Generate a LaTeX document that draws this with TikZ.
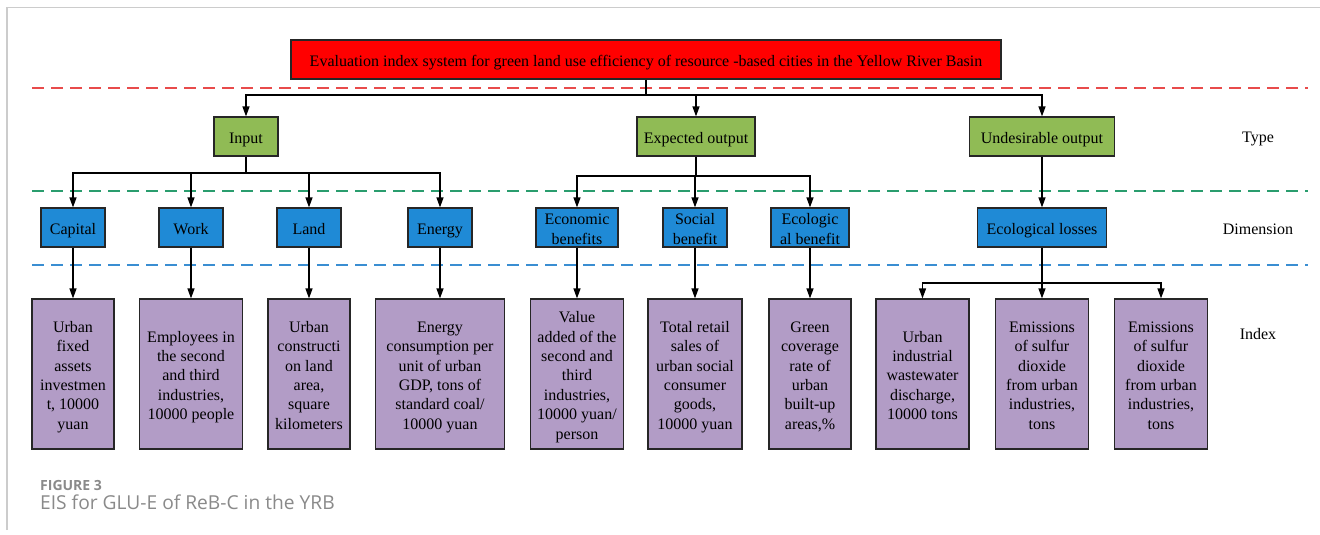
\documentclass[tikz,border=0pt]{standalone}
\usepackage{fontspec}
\setmainfont{Liberation Serif}
\newfontfamily\capfont{Open Sans}
\usetikzlibrary{arrows.meta}
\definecolor{topred}{HTML}{FF0000}
\definecolor{typegreen}{HTML}{90BB55}
\definecolor{dimblue}{HTML}{1F8AD6}
\definecolor{idxpurple}{HTML}{B29CC6}
\definecolor{dred}{HTML}{E84B4B}
\definecolor{dgreen}{HTML}{2A9D6E}
\definecolor{dblue}{HTML}{3A8ED2}
\definecolor{framegray}{HTML}{CCCCCC}
\definecolor{capgray}{HTML}{8A8A8A}
\newcommand{\bxt}[1]{\raisebox{-3pt}[\height][\depth]{\begin{tabular}{@{}c@{}}#1\end{tabular}}}
\begin{document}
\begin{tikzpicture}[x=1pt,y=-1pt,
  box/.style={draw=black!85, line width=1.2pt, inner sep=0pt,
              font=\fontsize{16}{19.4}\selectfont},
  topbox/.style={box, fill=topred, minimum width=710pt, minimum height=39pt},
  typebox/.style={box, fill=typegreen, minimum height=39pt},
  dimbox/.style={box, fill=dimblue, minimum height=39pt},
  idxbox/.style={box, fill=idxpurple, minimum height=150pt},
  arr/.style={-{Triangle[length=10pt,width=7pt]}, line width=1.3pt, draw=black},
  conn/.style={line width=1.3pt, draw=black},
  dline/.style={dashed, dash pattern=on 12pt off 7pt, line width=1.3pt},
  lab/.style={font=\fontsize{16}{19.4}\selectfont}]
\useasboundingbox (0,0) rectangle (1320,535);
\fill[white] (0,0) rectangle (1320,535);
\draw[framegray, line width=1.5pt] (7,530) -- (7,7.5) -- (1320,7.5);

% dashed separators
\draw[dline, dred] (32,88) -- (1308,88);
\draw[dline, dgreen] (32,191) -- (1308,191);
\draw[dline, dblue] (32,265) -- (1308,265);

% top
\node[topbox] (top) at (646,59.5) {\bxt{Evaluation index system for green land use efficiency of resource -based cities in the Yellow River Basin}};

% type
\node[typebox, minimum width=64pt] (input) at (246,136.5) {\bxt{Input}};
\node[typebox, minimum width=118pt] (exp) at (696,136.5) {\bxt{Expected output}};
\node[typebox, minimum width=145pt] (und) at (1042,136.5) {\bxt{Undesirable output}};

% dimension
\node[dimbox, minimum width=64pt] (cap) at (73,227.5) {\bxt{Capital}};
\node[dimbox, minimum width=64pt] (work) at (191,227.5) {\bxt{Work}};
\node[dimbox, minimum width=64pt] (land) at (309,227.5) {\bxt{Land}};
\node[dimbox, minimum width=64pt] (energy) at (440,227.5) {\bxt{Energy}};
\node[dimbox, minimum width=82pt] (econ) at (577,227.5) {\bxt{Economic\\benefits}};
\node[dimbox, minimum width=64pt] (social) at (695,227.5) {\bxt{Social\\benefit}};
\node[dimbox, minimum width=78pt] (ecob) at (810,227.5) {\bxt{Ecologic\\al benefit}};
\node[dimbox, minimum width=129pt] (eloss) at (1042,227.5) {\bxt{Ecological losses}};

% index
\node[idxbox, minimum width=82pt] (i1) at (73,374) {\bxt{Urban\\fixed\\assets\\investmen\\t, 10000\\yuan}};
\node[idxbox, minimum width=103pt] (i2) at (191,374) {\bxt{Employees in\\the second\\and third\\industries,\\10000 people}};
\node[idxbox, minimum width=82pt] (i3) at (309,374) {\bxt{Urban\\constructi\\on land\\area,\\square\\kilometers}};
\node[idxbox, minimum width=129pt] (i4) at (440,374) {\bxt{Energy\\consumption per\\unit of urban\\GDP, tons of\\standard coal/\\10000 yuan}};
\node[idxbox, minimum width=93pt] (i5) at (577,374) {\bxt{Value\\added of the\\second and\\third\\industries,\\10000 yuan/\\person}};
\node[idxbox, minimum width=94pt] (i6) at (695,374) {\bxt{Total retail\\sales of\\urban social\\consumer\\goods,\\10000 yuan}};
\node[idxbox, minimum width=82pt] (i7) at (810,374) {\bxt{Green\\coverage\\rate of\\urban\\built-up\\areas,\%}};
\node[idxbox, minimum width=93pt] (i8) at (922.5,374) {\bxt{Urban\\industrial\\wastewater\\discharge,\\10000 tons}};
\node[idxbox, minimum width=93pt] (i9) at (1042,374) {\bxt{Emissions\\of sulfur\\dioxide\\from urban\\industries,\\tons}};
\node[idxbox, minimum width=93pt] (i10) at (1161,374) {\bxt{Emissions\\of sulfur\\dioxide\\from urban\\industries,\\tons}};

% row labels
\node[lab] (ltype) at (1258,138.5) {Type};
\node[lab] (ldim) at (1258,229.5) {Dimension};
\node[lab] (lidx) at (1258,334.5) {Index};

% connectors
\coordinate (b1) at (646,95);
\draw[conn] (top.south) -- (b1);
\draw[arr] (b1) -| (input.north);
\draw[arr] (b1) -| (exp.north);
\draw[arr] (b1) -| (und.north);

\coordinate (b2) at (246,173);
\draw[conn] (input.south) -- (b2);
\draw[arr] (b2) -| (cap.north);
\draw[arr] (b2) -| (work.north);
\draw[arr] (b2) -| (land.north);
\draw[arr] (b2) -| (energy.north);

\coordinate (b3) at (696,176);
\draw[conn] (exp.south) -- (b3);
\draw[arr] (b3) -| (econ.north);
\draw[arr] (b3) -| (social.north);
\draw[arr] (b3) -| (ecob.north);

\draw[arr] (und.south) -- (eloss.north);

\draw[arr] (cap.south) -- (i1.north);
\draw[arr] (work.south) -- (i2.north);
\draw[arr] (land.south) -- (i3.north);
\draw[arr] (energy.south) -- (i4.north);
\draw[arr] (econ.south) -- (i5.north);
\draw[arr] (social.south) -- (i6.north);
\draw[arr] (ecob.south) -- (i7.north);

\coordinate (b4) at (1042,283);
\draw[conn] (eloss.south) -- (b4);
\draw[arr] (b4) -| (i8.north);
\draw[arr] (b4) -| (i9.north);
\draw[arr] (b4) -| (i10.north);

% caption
\node[anchor=base west, inner sep=0pt, text=capgray, font=\capfont\bfseries\fontsize{14}{16}\selectfont] (fig) at (40,490) {FIGURE 3};
\node[anchor=base west, inner sep=0pt, text=capgray, font=\capfont\fontsize{19.2}{22}\selectfont] (cap2) at (40,509) {EIS for GLU-E of ReB-C in the YRB};
\end{tikzpicture}
\end{document}
